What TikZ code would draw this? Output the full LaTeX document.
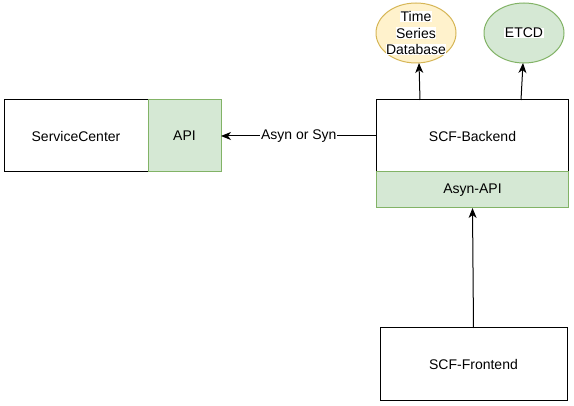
\documentclass[tikz,border=0pt]{standalone}
\usepackage{fontspec}
\setmainfont{Liberation Sans}
\usepackage{xcolor}
\usetikzlibrary{arrows.meta, shapes.geometric, positioning}

\definecolor{greenfill}{HTML}{D5E8D4}
\definecolor{greenline}{HTML}{82B366}
\definecolor{yellowfill}{HTML}{FFF2CC}
\definecolor{yellowline}{HTML}{D6B656}

\newcommand{\lbg}[1]{{\setlength{\fboxsep}{0.5pt}\colorbox{white}{#1}}}

\begin{document}
\begin{tikzpicture}[x=1pt, y=-1pt, line width=1pt,
    font=\fontsize{14}{16.5}\selectfont,
    box/.style={draw, rectangle, inner sep=0pt, outer sep=0pt},
    apibox/.style={box, draw=greenline, fill=greenfill},
    store/.style={draw, ellipse, inner sep=0pt, outer sep=0pt, minimum width=80pt, minimum height=60pt},
    tag/.style={inner sep=0pt, align=center},
    arrow/.style={-{Stealth[length=10pt, width=8pt, inset=3pt]}}]
    \useasboundingbox (0,0) rectangle (574,406);

    \node[box, minimum width=144pt, minimum height=72pt] (sc) at (76, 136) {ServiceCenter};
    \node[apibox, minimum width=73pt, minimum height=72pt] (api) at (184.5, 136) {API};
    \node[box, minimum width=192pt, minimum height=72pt] (backend) at (472.5, 136) {SCF-Backend};
    \node[apibox, minimum width=192pt, minimum height=36pt] (asynapi) at (472.5, 190) {Asyn-API};
    \node[box, minimum width=187pt, minimum height=73pt] (frontend) at (473.5, 364.5) {SCF-Frontend};

    \node[store, draw=yellowline, fill=yellowfill] (tsdb) at (416, 33) {};
    \node[tag] (tsdbtext) at (tsdb) {\lbg{Time}\\\lbg{Series}\\\lbg{Database}};
    \node[store, draw=greenline, fill=greenfill] (etcd) at (524, 33) {};
    \node[tag] (etcdtext) at (etcd) {\lbg{ETCD}};

    \draw[arrow] (backend.west) -- node[fill=white, inner sep=1pt] (mode) {Asyn or Syn} (api.east);
    \draw[arrow] (frontend.north) -- (asynapi.south);
    \draw[arrow] ([xshift=-52.5pt]backend.north) -- ([xshift=3pt]tsdb.south);
    \draw[arrow] ([xshift=48.5pt]backend.north) -- ([xshift=-1pt]etcd.south);
\end{tikzpicture}
\end{document}
